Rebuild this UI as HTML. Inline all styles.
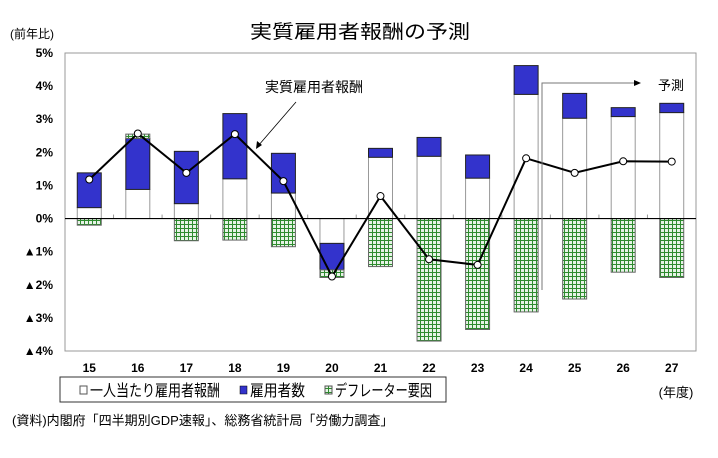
<!DOCTYPE html>
<html><head><meta charset="utf-8">
<style>
body{margin:0;background:#fff;}
svg{display:block;font-family:"Liberation Sans","Noto Sans CJK JP",sans-serif;}
</style></head>
<body>
<svg id="c" width="718" height="458" viewBox="0 0 718 458">
<defs>
<pattern id="grid" width="4" height="4" patternUnits="userSpaceOnUse">
<rect width="4" height="4" fill="#e6f3e6"/>
<path d="M0 0.5H4M0.5 0V4" stroke="#2e8b2e" stroke-width="1"/>
</pattern>
</defs>
<text x="360" y="38" font-size="19" text-anchor="middle" textLength="220" lengthAdjust="spacingAndGlyphs">実質雇用者報酬の予測</text>
<text x="10" y="38" font-size="12">(前年比)</text>
<text x="676" y="397" font-size="13" text-anchor="middle">(年度)</text>
<text x="12" y="425" font-size="13">(資料)内閣府「四半期別GDP速報」、総務省統計局「労働力調査」</text>
<g id="plot"></g>
<g>
<rect x="60" y="377" width="386" height="25" fill="#fff" stroke="#333"/>
<rect x="80" y="386" width="7" height="8" fill="#fff" stroke="#555"/>
<text x="90" y="396" font-size="16" textLength="130" lengthAdjust="spacingAndGlyphs">一人当たり雇用者報酬</text>
<rect x="240" y="386" width="7" height="8" fill="#3333cc" stroke="#000" stroke-width="0.5"/>
<text x="250" y="396" font-size="16" textLength="55" lengthAdjust="spacingAndGlyphs">雇用者数</text>
<rect x="325" y="386" width="7" height="8" fill="url(#grid)" stroke="#555"/>
<text x="335" y="396" font-size="16" textLength="97" lengthAdjust="spacingAndGlyphs">デフレーター要因</text>
</g>
</svg>
<script>
const categories=["15","16","17","18","19","20","21","22","23","24","25","26","27"];
const wageValues=[0.33,0.88,0.45,1.2,0.77,-0.75,1.85,1.88,1.22,3.75,3.03,3.08,3.2];
const employeeValues=[1.05,1.54,1.58,1.97,1.2,-0.8,0.27,0.57,0.7,0.87,0.75,0.27,0.28];
const deflatorValues=[-0.2,0.13,-0.67,-0.65,-0.85,-0.23,-1.45,-3.7,-3.35,-2.82,-2.43,-1.62,-1.78];
const totalValues=[1.18,2.57,1.38,2.55,1.13,-1.75,0.68,-1.23,-1.4,1.82,1.38,1.73,1.72];
const yTicks=[5,4,3,2,1,0,-1,-2,-3,-4];
const yTickLabels=["5%","4%","3%","2%","1%","0%","▲1%","▲2%","▲3%","▲4%"];

const NS="http://www.w3.org/2000/svg";
const L=65,R=696,T=53,B=351;
const yMin=-4,yMax=5;
function y(v){return B-(v-yMin)/(yMax-yMin)*(B-T);}
const step=(R-L)/categories.length;
function xc(i){return L+step*(i+0.5);}
const g=document.getElementById('plot');
function mk(tag,attrs){const e=document.createElementNS(NS,tag);for(const k in attrs)e.setAttribute(k,attrs[k]);g.appendChild(e);return e;}

let frame=mk('rect',{x:L,y:T,width:R-L,height:B-T,fill:'none',stroke:'#999'});


yTicks.forEach((t,i)=>{
  const tx=mk('text',{x:L-12,y:y(t)+4,'font-size':12,'text-anchor':'end','font-weight':'bold'});
  tx.textContent=yTickLabels[i];
  
  
});
const bw=24;
function bar(i,a,b,fill,stroke,name){
  const top=y(Math.max(a,b)),bot=y(Math.min(a,b));
  const r=mk('rect',{x:xc(i)-bw/2,y:top,width:bw,height:bot-top,fill:fill,stroke:stroke,'stroke-width':1});
  
  
}
categories.forEach((c,i)=>{
  const w=wageValues[i],e=employeeValues[i],d=deflatorValues[i];
  bar(i,0,w,'#fff','#999','bar-wage-'+c);
  bar(i,w,w+e,'#3333cc','#222','bar-employees-'+c);
  let base;
  if(d>=0){base=w+e;}else{base=(w<0?w+e:0);}
  if(w+e<0 && d<0) base=w+e;
  bar(i,base,base+d,'url(#grid)','#666','bar-deflator-'+c);
  const lb=mk('text',{x:xc(i),y:372,'font-size':12,'text-anchor':'middle','font-weight':'bold'});
  lb.textContent=c;
  
  
  if(i>0){const tk=mk('line',{x1:L+step*i,x2:L+step*i,y1:y(0),y2:y(0)-4,stroke:'#999'});
    }
});
const zero=mk('line',{x1:L,x2:R,y1:y(0),y2:y(0),stroke:'#000','stroke-width':1.2});


const pl=mk('polyline',{points:totalValues.map((v,i)=>xc(i)+','+y(v)).join(' '),fill:'none',stroke:'#000','stroke-width':2});


totalValues.forEach((v,i)=>{
  const p=mk('circle',{cx:xc(i),cy:y(v),r:3.5,fill:'#fff',stroke:'#000'});
  
  
});
const ann=mk('text',{x:265,y:92,'font-size':14});
ann.textContent='実質雇用者報酬';


const al=mk('line',{x1:296,x2:258,y1:102,y2:146,stroke:'#000','stroke-width':0.8});

const ah=mk('path',{d:'M256 149 L257 141 L262 145 Z',fill:'#000'});

const fl=mk('polyline',{points:'542,290 542,83 635,83',fill:'none',stroke:'#777','stroke-width':1});

const fh=mk('path',{d:'M641 83 L634 80 L634 86 Z',fill:'#000'});

const ft=mk('text',{x:658,y:90,'font-size':13,fill:'#000'});
ft.textContent='予測';

</script>
</body></html>
